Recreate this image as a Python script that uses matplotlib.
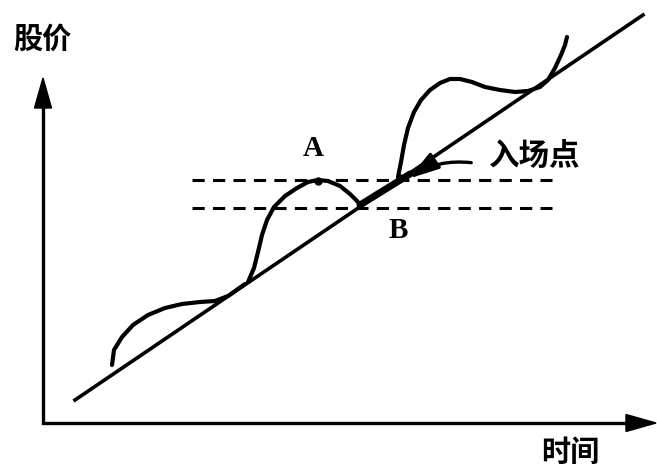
import numpy as np
import matplotlib
matplotlib.use("Agg")
import matplotlib.pyplot as plt
from matplotlib.patches import FancyArrowPatch

plt.rcParams['font.family'] = ['Noto Sans CJK SC', 'DejaVu Sans']

# Schematic data, in picture units (x = time to the right, y = price downward)
trend_t = [75, 643]
trend_p = [400, 15]

curve1_t = [112, 114, 122, 133, 148, 165, 182, 200, 215, 228, 245]
curve1_p = [365, 350, 337, 325, 315, 308, 304, 302, 301, 296, 284]

curve2_t = [248, 254, 258, 262, 267, 274, 285, 297, 308, 318, 328, 340, 350, 357, 362]
curve2_p = [282, 268, 252, 235, 220, 207, 196, 188, 182, 180, 181, 186, 194, 201, 207]

curve3_t = [398, 401, 404, 408, 414, 421, 430, 440, 450, 460, 472, 485, 500, 515,
            528, 540, 548, 555, 561, 565, 567]
curve3_p = [177, 162, 145, 128, 112, 100, 90, 83, 79, 79, 82, 87, 90, 92,
            91, 87, 80, 68, 55, 45, 37]

thick_t = [360, 410]
thick_p = [205, 174]

levels = [180, 208]
level_span = [192, 552]

point_a = (318, 181)
entry = (400, 178)

# Plot setup
fig = plt.figure(figsize=(6.57, 4.66), dpi=100)
ax = fig.add_axes([0, 0, 1, 1], frameon=False)
ax.set_xlim(0, 657)
ax.set_ylim(466, 0)
ax.set_xticks([])
ax.set_yticks([])

# Axes with arrows
ax.plot([43, 43, 640], [102, 423, 423], color="black", lw=2.4, solid_joinstyle="miter")
ax.fill([43, 34.5, 51.5], [78, 108, 108], color="black")
ax.fill([656, 626, 626], [423, 414.5, 431.5], color="black")

# Trend line and price curves
ax.plot(trend_t, trend_p, color="black", lw=2.6)
ax.plot(thick_t, thick_p, color="black", lw=5, solid_capstyle="round")
for t, p in [(curve1_t, curve1_p), (curve2_t, curve2_p), (curve3_t, curve3_p)]:
    ax.plot(t, p, color="black", lw=3.0, solid_capstyle="round", solid_joinstyle="round")

# Support levels
for y in levels:
    ax.plot(level_span, [y, y], color="black", lw=2.2, linestyle=(0, (4, 2.7)))

ax.plot(*point_a, "o", color="black", ms=5)
ax.plot(*entry, "o", color="black", ms=5)

# Entry arrow
arr = FancyArrowPatch((474, 163), (407, 180), connectionstyle="arc3,rad=0.2",
                      arrowstyle="-|>,head_length=1.3,head_width=0.4",
                      color="black", lw=2.4, mutation_scale=14)
ax.add_patch(arr)

# Labels
ax.text(42, 39, "股价", fontsize=21, weight="bold", ha="center", va="center")
ax.text(570, 452, "时间", fontsize=21, weight="bold", ha="center", va="center")
ax.text(534, 156, "入场点", fontsize=22, weight="bold", ha="center", va="center")
ax.text(313, 148, "A", fontsize=21, weight="bold", family="Liberation Serif", ha="center", va="center")
ax.text(398, 231, "B", fontsize=21, weight="bold", family="Liberation Serif", ha="center", va="center")

fig.savefig("out.png", dpi=100)
